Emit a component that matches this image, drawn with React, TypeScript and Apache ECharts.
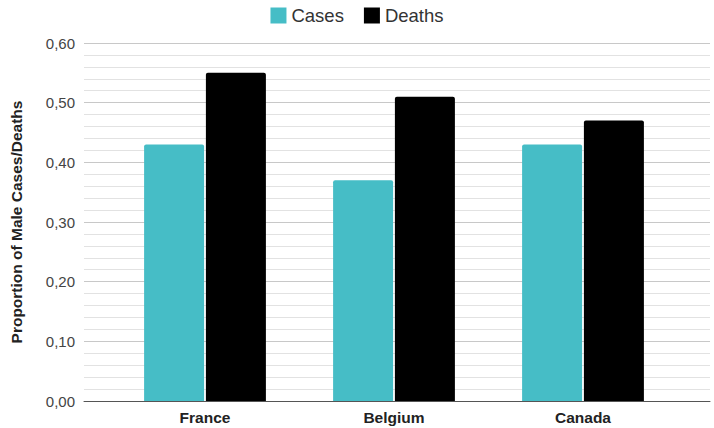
import React, { useEffect, useRef } from "react";
import * as echarts from "echarts";

const categories = ["France", "Belgium", "Canada"];
const casesValues = [0.43, 0.37, 0.43];
const deathsValues = [0.55, 0.51, 0.47];
const seriesNames = ["Cases", "Deaths"];
const yTicks = { min: 0, max: 0.6, interval: 0.1 };

export default function App() {
  const ref = useRef<HTMLDivElement>(null);
  useEffect(() => {
    document.body.style.margin = "0";
    if (!ref.current) return;
    const chart = echarts.init(ref.current, null, { renderer: "svg" });
    const font = "Liberation Sans, Arial, sans-serif";
    const fmt = (v: number) => v.toFixed(2).replace(".", ",");
    chart.setOption({
      animation: false,
      textStyle: { fontFamily: font },
      legend: {
        top: 1,
        left: "center",
        itemWidth: 16,
        itemHeight: 16,
        itemGap: 20,
        icon: "rect",
        textStyle: { fontSize: 18.5, color: "#333", fontFamily: font },
        data: seriesNames,
      },
      grid: [
        { left: 78, right: 4, top: 43, bottom: 27 },
        { left: 110.5, right: 36.5, top: 43, bottom: 27 },
      ],
      xAxis: [
        {
          gridIndex: 0,
          type: "value",
          min: 0,
          max: 1,
          axisLine: { show: true, lineStyle: { color: "#555", width: 1 } },
          axisTick: { show: false },
          axisLabel: { show: false },
          splitLine: { show: false },
        },
        {
          gridIndex: 1,
          type: "category",
          data: categories,
          axisLine: { show: false },
          axisTick: { show: false },
          axisLabel: {
            fontSize: 15.5,
            fontWeight: "bold",
            color: "#222",
            margin: 8,
            fontFamily: font,
          },
        },
      ],
      yAxis: [
        {
          gridIndex: 0,
          type: "value",
          min: yTicks.min,
          max: yTicks.max,
          interval: yTicks.interval,
          name: "Proportion of Male Cases/Deaths",
          nameLocation: "middle",
          nameGap: 60,
          nameTextStyle: {
            fontSize: 15.5,
            fontWeight: "bold",
            color: "#222",
            fontFamily: font,
          },
          axisLine: { show: false },
          axisTick: { show: false },
          axisLabel: {
            formatter: fmt,
            fontSize: 15,
            color: "#444",
            margin: 9,
            fontFamily: font,
          },
          splitLine: { show: true, lineStyle: { color: "#c8c8c8", width: 1 } },
          minorTick: { show: false, splitNumber: 5 },
          minorSplitLine: { show: true, lineStyle: { color: "#e2e2e2", width: 1 } },
        },
        {
          gridIndex: 1,
          type: "value",
          min: yTicks.min,
          max: yTicks.max,
          interval: yTicks.interval,
          show: false,
          splitLine: { show: false },
        },
      ],
      series: [
        {
          name: seriesNames[0],
          type: "bar",
          xAxisIndex: 1,
          yAxisIndex: 1,
          data: casesValues,
          barWidth: 60,
          barGap: "3%",
          itemStyle: { color: "#46bdc6", borderRadius: [2, 2, 0, 0] },
        },
        {
          name: seriesNames[1],
          type: "bar",
          xAxisIndex: 1,
          yAxisIndex: 1,
          data: deathsValues,
          barWidth: 60,
          barGap: "3%",
          itemStyle: { color: "#000000", borderRadius: [2, 2, 0, 0] },
        },
      ],
    });
    return () => chart.dispose();
  }, []);
  return <div ref={ref} style={{ width: 714, height: 428 }} />;
}
